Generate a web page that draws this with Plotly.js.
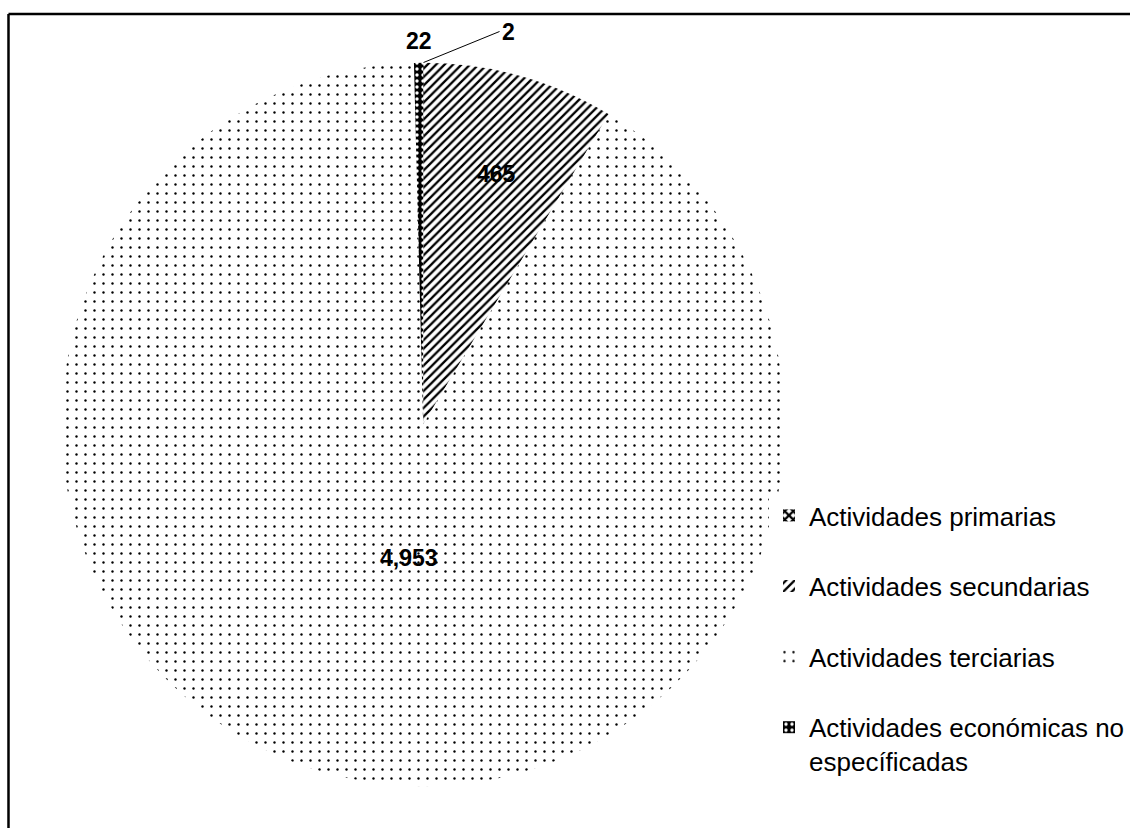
<!DOCTYPE html>
<html>
<head>
<meta charset="utf-8">
<script src="https://cdn.plot.ly/plotly-3.0.1.min.js"></script>
<style>html,body{margin:0;padding:0;background:#fff;}#chart{width:1130px;height:828px;}</style>
</head>
<body>
<div id="chart"></div>
<script>
var categories = ["Actividades primarias", "Actividades secundarias", "Actividades terciarias", "Actividades económicas no<br>específicadas"];
var values = [2, 465, 4953, 22];

var W = 1130, H = 828;
var cxPx = 423.5, cyPx = 424.5, Rpx = 362;
var domX = [(cxPx - Rpx) / W, (cxPx + Rpx) / W];
var domY = [1 - (cyPx + Rpx) / H, 1 - (cyPx - Rpx) / H];

var total = values.reduce(function(a, b){ return a + b; }, 0);
var cum = 0, midAng = [];
values.forEach(function(v){ midAng.push((cum + v / 2) / total * 2 * Math.PI); cum += v; });
function pt(i, rf){
  var a = midAng[i];
  return {x: (cxPx + Rpx * rf * Math.sin(a)) / W, y: 1 - (cyPx - Rpx * rf * Math.cos(a)) / H};
}

// legend entries: single-line labels get a blank second line for Excel-like spacing
var legendLabels = categories.map(function(c){ return c.indexOf("<br>") >= 0 ? c : c + "<br> "; });

var labelFont = {family: "Liberation Sans, Arial, sans-serif", size: 23, color: "#000"};

var trace = {
  type: "pie",
  labels: legendLabels,
  values: values,
  sort: false,
  direction: "clockwise",
  rotation: 0,
  domain: {x: domX, y: domY},
  textinfo: "none",
  hoverinfo: "label+value",
  marker: {
    colors: ["#000", "#fff", "#fff", "#000"],
    line: {width: 0},
    pattern: {
      shape: ["x", "/", ".", "."],
      fgcolor: ["#000", "#000", "#000", "#fff"],
      bgcolor: ["#fff", "#fff", "#fff", "#000"],
      size: [6, 6, 9, 6],
      solidity: [0.6, 0.38, 0.055, 0.25],
      fillmode: "replace"
    }
  }
};

var p1 = pt(1, 0.76), p2 = pt(2, 0.37), p3 = pt(3, 1.0), p0 = pt(0, 1.0);
var annotations = [
  {xref: "paper", yref: "paper", x: p1.x, y: p1.y, text: "<b>" + values[1].toLocaleString("en-US") + "</b>", showarrow: false, font: labelFont},
  {xref: "paper", yref: "paper", x: p2.x, y: p2.y, xshift: 20, yshift: -19, text: "<b>" + values[2].toLocaleString("en-US") + "</b>", showarrow: false, font: labelFont},
  {xref: "paper", yref: "paper", x: p3.x, y: p3.y, text: "<b>" + values[3].toLocaleString("en-US") + "</b>", showarrow: false, font: labelFont, xanchor: "center", yanchor: "bottom", yshift: 7},
  {xref: "paper", yref: "paper", x: p0.x, y: p0.y, text: "<b>" + values[0].toLocaleString("en-US") + "</b>", showarrow: true, arrowhead: 0, arrowwidth: 1, arrowcolor: "#000", ax: 76, ay: -31, font: labelFont, xanchor: "left", standoff: 0}
];

var layout = {
  width: W, height: H,
  margin: {l: 0, r: 0, t: 0, b: 0},
  paper_bgcolor: "#fff",
  showlegend: true,
  legend: {
    x: 770 / W, y: 1 - 492 / H, xanchor: "left", yanchor: "top",
    font: {family: "Liberation Sans, Arial, sans-serif", size: 26, color: "#000"},
    valign: "top",
    itemclick: false, itemdoubleclick: false,
    tracegroupgap: 0
  },
  annotations: annotations,
  shapes: [
    {type: "line", xref: "paper", yref: "paper", x0: 8.5 / W, x1: 1.01, y0: 1 - 14 / H, y1: 1 - 14 / H, line: {color: "#000", width: 2.5}},
    {type: "line", xref: "paper", yref: "paper", x0: 8.5 / W, x1: 8.5 / W, y0: 1 - 14 / H, y1: -0.01, line: {color: "#000", width: 2.5}}
  ]
};

Plotly.newPlot("chart", [trace], layout, {displayModeBar: false, staticPlot: true});
</script>
</body>
</html>
